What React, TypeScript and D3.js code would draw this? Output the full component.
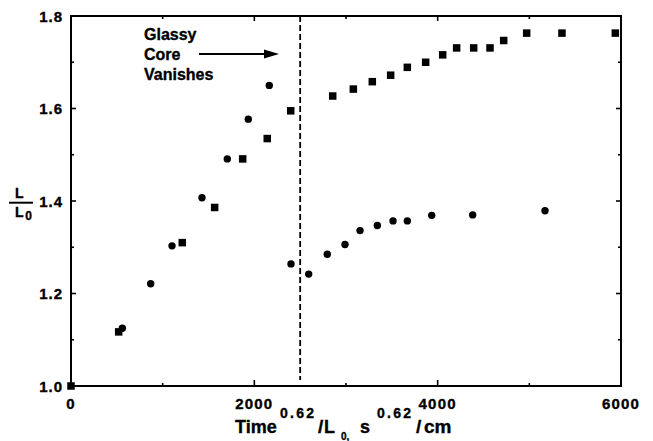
import React from "react";
import * as d3 from "d3";

// Swelling ratio L/L0 versus scaled time
const squareX = [0, 520, 1214, 1567, 1873, 2141, 2397, 2855, 3080, 3287, 3487, 3669, 3869, 4055, 4207, 4393, 4571, 4720, 4971, 5356, 5938];
const squareY = [1.0, 1.117, 1.31, 1.386, 1.491, 1.535, 1.595, 1.627, 1.642, 1.658, 1.672, 1.689, 1.7, 1.716, 1.731, 1.731, 1.731, 1.747, 1.763, 1.763, 1.763];
const circleX = [560, 869, 1102, 1429, 1705, 1934, 2163, 2400, 2593, 2796, 2989, 3153, 3342, 3513, 3669, 3935, 4382, 5171];
const circleY = [1.125, 1.221, 1.303, 1.407, 1.491, 1.577, 1.65, 1.264, 1.242, 1.285, 1.306, 1.336, 1.347, 1.357, 1.357, 1.369, 1.37, 1.379];

const xTicks = [0, 2000, 4000, 6000];
const xMinor = [1000, 3000, 5000];
const yTicks = [1.0, 1.2, 1.4, 1.6, 1.8];
const yMinor = [1.1, 1.3, 1.5, 1.7];
const coreVanishX = 2500;
const noteLines = ["Glassy", "Core", "Vanishes"];

const W = 653;
const H = 441;
const FONT = "'Liberation Sans', Arial, Helvetica, sans-serif";

export default function App() {
  const x = d3.scaleLinear().domain([0, 6000]).range([71, 621]);
  const y = d3.scaleLinear().domain([1.0, 1.8]).range([386, 16]);
  const [x0, x1] = x.range();
  const [y0, y1] = y.range();
  const sq = 7.5;
  const r = 3.7;

  return (
    <svg
      width={W}
      height={H}
      style={{ position: "fixed", left: 0, top: 0, background: "#fff" }}
      fontFamily={FONT}
    >
      <rect x={0} y={0} width={W} height={H} fill="#fff" />

      {/* dashed line where the glassy core vanishes */}
      <line
        x1={x(coreVanishX)}
        x2={x(coreVanishX)}
        y1={y1}
        y2={y0 - 6}
        stroke="#000"
        strokeWidth={1.8}
        strokeDasharray="6 3"
      />

      {/* frame */}
      <rect x={x0} y={y1} width={x1 - x0} height={y0 - y1} fill="none" stroke="#000" strokeWidth={2} />

      <g fontWeight="bold" stroke="#000" strokeWidth={0.35}>
        {/* x ticks (inward, top and bottom) */}
        {xTicks.map((t) => (
          <g key={"xt" + t}>
            <line x1={x(t)} x2={x(t)} y1={y0} y2={y0 - 6} strokeWidth={1.6} />
            <line x1={x(t)} x2={x(t)} y1={y1} y2={y1 + 5} strokeWidth={1.6} />
            <text x={x(t)} y={409} textAnchor="middle" fontSize={15} letterSpacing={1.2}>
              {String(t)}
            </text>
          </g>
        ))}
        {xMinor.map((t) => (
          <g key={"xm" + t}>
            <line x1={x(t)} x2={x(t)} y1={y0} y2={y0 - 3} strokeWidth={1.6} />
            <line x1={x(t)} x2={x(t)} y1={y1} y2={y1 + 3} strokeWidth={1.6} />
          </g>
        ))}

        {/* y ticks (inward, left and right) */}
        {yTicks.map((t) => (
          <g key={"yt" + t}>
            <line x1={x0} x2={x0 + 5} y1={y(t)} y2={y(t)} strokeWidth={1.6} />
            <line x1={x1} x2={x1 - 5} y1={y(t)} y2={y(t)} strokeWidth={1.6} />
            <text x={63} y={y(t) + 5.5} textAnchor="end" fontSize={15} letterSpacing={1}>
              {t.toFixed(1)}
            </text>
          </g>
        ))}
        {yMinor.map((t) => (
          <g key={"ym" + t}>
            <line x1={x0} x2={x0 + 3} y1={y(t)} y2={y(t)} strokeWidth={1.6} />
            <line x1={x1} x2={x1 - 3} y1={y(t)} y2={y(t)} strokeWidth={1.6} />
          </g>
        ))}

        {/* annotation */}
        {noteLines.map((s, i) => (
          <text key={s} x={144} y={39.5 + i * 20} fontSize={16}>
            {s}
          </text>
        ))}

        {/* y-axis label L / L0 */}
        <text x={15} y={198} fontSize={14}>L</text>
        <text x={15} y={217} fontSize={14}>L</text>
        <text x={25.3} y={220} fontSize={12}>0</text>

        {/* x-axis title: Time^0.62/L0, s^0.62/cm */}
        <text x={235} y={433} fontSize={18}>Time</text>
        <text x={280} y={418} fontSize={14} letterSpacing={2.3}>0.62</text>
        <text x={318} y={433} fontSize={19}>/</text>
        <text x={324} y={433} fontSize={18}>L</text>
        <text x={341} y={440} fontSize={10}>0,</text>
        <text x={360} y={433} fontSize={18}>s</text>
        <text x={377} y={418} fontSize={14} letterSpacing={2.3}>0.62</text>
        <text x={416} y={433} fontSize={19}>/</text>
        <text x={424} y={433} fontSize={19}>cm</text>
      </g>

      {/* L over L0 fraction bar */}
      <line x1={9} x2={33} y1={202.7} y2={202.7} stroke="#000" strokeWidth={2} />

      {/* annotation arrow */}
      <line x1={199} x2={267} y1={54} y2={54} stroke="#000" strokeWidth={2} />
      <path d="M264,49.5 L279,54 L264,58.5 Z" fill="#000" />

      {/* square series */}
      {squareX.map((v, i) => (
        <rect
          key={"s" + i}
          x={x(v) - sq / 2}
          y={y(squareY[i]) - sq / 2}
          width={sq}
          height={sq}
          fill="#000"
        />
      ))}

      {/* circle series */}
      {circleX.map((v, i) => (
        <circle key={"c" + i} cx={x(v)} cy={y(circleY[i])} r={r} fill="#000" />
      ))}
    </svg>
  );
}
